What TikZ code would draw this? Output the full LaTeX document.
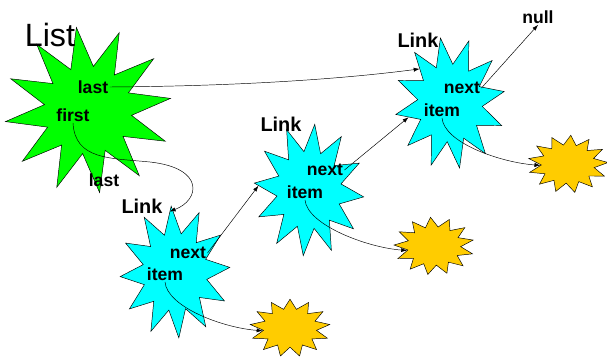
\documentclass[tikz,border=0pt]{standalone}
\usepackage{fontspec}
\setmainfont{Liberation Sans}
\usetikzlibrary{shapes.geometric,arrows.meta}
\definecolor{listgreen}{HTML}{00FF00}
\definecolor{linkcyan}{HTML}{00FFFF}
\definecolor{itemgold}{HTML}{FFCC00}

\begin{document}
\begin{tikzpicture}[x=0.03cm, y=-0.03cm,
  burst/.style={star, draw, thin, inner sep=0pt},
  listbox/.style={burst, fill=listgreen, star points=12, star point ratio=1.9, minimum size=5cm, rotate=8},
  linkbox/.style={burst, fill=linkcyan, star points=12, star point ratio=1.7, minimum size=3.3cm, yscale=1.2},
  itembox/.style={burst, fill=itemgold, star points=13, star point ratio=1.5, minimum size=2.4cm, yscale=0.72},
  fld/.style={font=\bfseries\fontsize{15}{17}\selectfont, inner sep=1pt},
  title/.style={font=\bfseries\fontsize{17}{19}\selectfont},
  ptr/.style={-{Latex[length=5pt,width=3.5pt]}, thin}
]
  \useasboundingbox (0,0) rectangle (607,359);

  % the list header
  \node[listbox] (lst) at (88,110) {};
  \node[font=\fontsize{27.5}{30}\selectfont] (lsttitle) at (50,35) {List};
  \node[fld] (lstlast) at (93,87) {last};
  \node[fld] (lstfirst) at (73,115) {first};
  \node[fld] (firstlbl) at (104,180) {last};

  % the links
  \node[linkbox, rotate=4] (l1) at (175,272) {};
  \node[linkbox, rotate=-6] (l2) at (309,190) {};
  \node[linkbox, rotate=10] (l3) at (450,103) {};
  \node[title] (t1) at (142,206) {Link};
  \node[title] (t2) at (281,124) {Link};
  \node[title] (t3) at (418,40) {Link};
  \node[fld] (nx1) at (188,253) {next};
  \node[fld] (it1) at (165,274) {item};
  \node[fld] (nx2) at (325,170) {next};
  \node[fld] (it2) at (305,192) {item};
  \node[fld] (nx3) at (462,88) {next};
  \node[fld] (it3) at (442,110) {item};
  \node[fld] (null) at (538,17) {null};

  % the items
  \node[itembox] (g1) at (290,328) {};
  \node[itembox, rotate=5] (g2) at (434,246) {};
  \node[itembox, rotate=-4] (g3) at (568,164) {};

  % pointers
  \draw[ptr] (lstlast.east) .. controls (250,86) and (350,78) .. (l3.127);
  \draw[ptr] (lstfirst.south) .. controls (75,160) and (110,158) .. (150,162)
             .. controls (205,168) and (200,200) .. (l1.92);
  \draw[ptr] (nx1.east) -- (l2.182);
  \draw[ptr] (nx2.east) -- (l3.186);
  \draw[ptr] (nx3.east) -- (null.south);
  \foreach \i in {1,2,3}
    \draw[ptr] (it\i.south) .. controls +(2,25) and +(-40,-3) .. (g\i.188);
\end{tikzpicture}
\end{document}
